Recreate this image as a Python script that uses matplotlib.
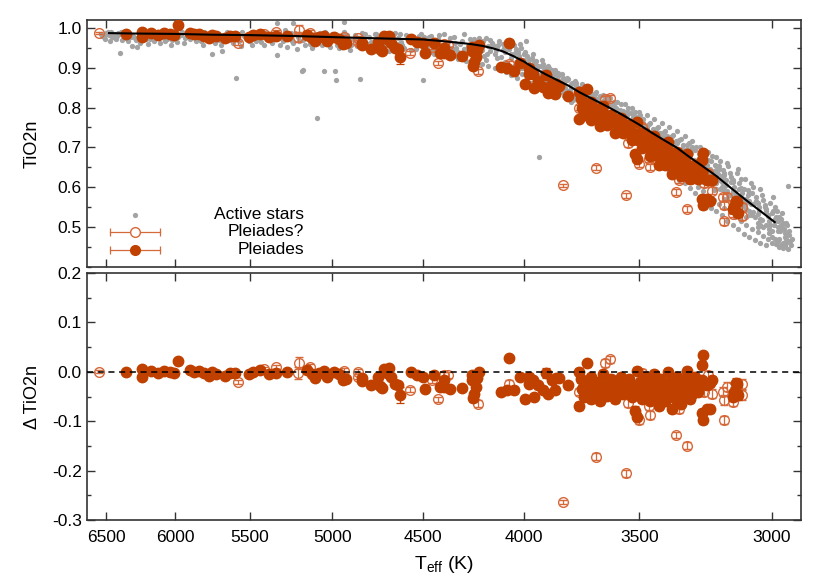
import matplotlib
matplotlib.use('Agg')
import matplotlib.pyplot as plt
from matplotlib.ticker import MultipleLocator, NullLocator, FixedLocator, FixedFormatter

plt.rcParams['font.family'] = ['Liberation Sans', 'DejaVu Sans']
plt.rcParams['axes.unicode_minus'] = False

# ---------------- data ----------------
xtick_vals = [6500, 6000, 5500, 5000, 4500, 4000, 3500, 3000]
xtick_labels = ['6500', '6000', '5500', '5000', '4500', '4000', '3500', '3000']

fit_teff = [6480, 6300, 6000, 5750, 5500, 5250, 5000, 4750, 4500, 4400, 4300, 4250, 4200,
            4150, 4100, 4050, 4000, 3950, 3900, 3850, 3800, 3750, 3700, 3650, 3600,
            3550, 3500, 3450, 3400, 3350, 3300, 3250, 3200, 3150, 3100, 3050, 2990]
fit_tio2 = [0.987, 0.986, 0.985, 0.983, 0.982, 0.980, 0.977, 0.974, 0.971, 0.967, 0.962, 0.959, 0.955,
            0.949, 0.941, 0.929, 0.915, 0.898, 0.883, 0.869, 0.855, 0.838, 0.823, 0.808, 0.792,
            0.775, 0.757, 0.737, 0.718, 0.699, 0.675, 0.652, 0.628, 0.600, 0.572, 0.545, 0.512]

# Active stars (gray), part 1
gray_teff = [6540, 6520, 6500, 6480, 6460, 6440, 6420, 6400, 6390, 6370, 6350, 6330, 6310, 6300, 6280,
             6270, 6260, 6240, 6220, 6200, 6180, 6160, 6140, 6120, 6100, 6080, 6060, 6040, 6020, 6000,
             5980, 5950, 5920, 5900, 5870, 5850, 5820, 5800, 5780, 5750, 5740, 5720, 5700, 5680, 5670,
             5650, 5630, 5600, 5590, 5570, 5550, 5520, 5500, 5480, 5450, 5430, 5400, 5380, 5350, 5330,
             5320, 5300, 5280, 5260, 5240, 5220, 5200, 5180, 5175, 5170, 5150, 5130, 5110, 5090, 5085,
             5070, 5050, 5045, 5020, 5000,
             4985, 4980, 4970, 4950, 4930, 4910, 4890, 4870, 4850, 4840, 4830, 4810, 4790, 4770, 4750,
             4730, 4710, 4690, 4670, 4650, 4630, 4610, 4590, 4570, 4550, 4530, 4510, 4500, 4490, 4470,
             4460, 4440, 4420, 4400, 4390, 4370, 4350, 4340, 4320, 4300, 4290, 4270, 4250, 4240, 4220,
             4200, 4190, 4180, 4160, 4150, 4130, 4120, 4100, 4090, 4080, 4060, 4050, 4040, 4030, 4020,
             4010, 4000,
             3990, 3980, 3970, 3960, 3950, 3940, 3930, 3920, 3910, 3900, 3890, 3880, 3870, 3860, 3850,
             3840, 3830, 3820, 3810, 3800, 3790, 3780, 3770, 3760, 3750, 3740, 3730, 3720, 3710, 3700,
             3690, 3680, 3670, 3660, 3650, 3640, 3630, 3620, 3610, 3600, 3590, 3580, 3570, 3560, 3550,
             3540, 3530, 3520, 3510, 3500,
             3490, 3480, 3470, 3460, 3450, 3440, 3430, 3420, 3410, 3400, 3390, 3380, 3370, 3360, 3350,
             3340, 3330, 3320, 3310, 3300, 3290, 3280, 3270, 3260, 3250, 3240, 3230, 3220, 3210, 3200,
             3190, 3180, 3170, 3160, 3150, 3140, 3130, 3120, 3110, 3100, 3090, 3080, 3075, 3070, 3060,
             3050, 3040, 3030, 3020, 3010, 3000, 2995, 2990, 2985, 2980, 2975, 2970, 2965, 2960, 2955,
             2950, 2945, 2962, 2985,
             6510, 6490, 6470, 6450, 6430, 6410, 6380, 6360, 6340, 6320, 6290, 6250, 6230, 6210, 6190,
             6170, 6150, 6130, 6110, 6090, 6070, 6050, 6030, 6010, 5990, 5960, 5940, 5910, 5890, 5860,
             5840, 5810, 5790, 5760, 5730, 5710, 5690, 5660, 5640, 5610, 5580, 5560, 5540, 5510, 5490,
             5460, 5440, 5410, 5390, 5360, 5340, 5310, 5290, 5270, 5250, 5230, 5210, 5190, 5160, 5140,
             5120, 5100, 5060, 5040, 5010, 4990, 4960, 4940, 4920, 4900, 4880, 4860, 4820, 4800, 4780,
             4760, 4740, 4720, 4700, 4680, 4660, 4640, 4620, 4600, 4580, 4560, 4540, 4520, 4480, 4460,
             5330, 5230, 4930,
             4490, 4470, 4450, 4430, 4410, 4380, 4360, 4340, 4330, 4310, 4280, 4260, 4230, 4210, 4200,
             4180, 4170, 4160, 4140, 4130, 4110, 4100, 4090, 4080, 4070, 4060, 4050, 4040, 4030, 4020,
             4015, 4005, 3995, 3990, 3985, 3975, 3965, 3960, 3955, 3945, 3940, 3935, 3925, 3915, 3905,
             3895, 3885, 3875, 3865,
             3945, 3925, 3905, 3885, 3865, 3845, 3835, 3825, 3815, 3805, 3795, 3785, 3775, 3765, 3755,
             3745, 3735, 3725, 3715, 3705, 3695, 3685, 3675, 3665, 3655, 3645, 3635, 3625, 3615, 3605,
             3595, 3585, 3575, 3565, 3555, 3545, 3535, 3525, 3515, 3505, 3500, 3495, 3850, 3790, 3730,
             3670, 3610, 3560, 3520,
             3485, 3475, 3465, 3455, 3445, 3435, 3425, 3415, 3405, 3395, 3385, 3375, 3365, 3355, 3345,
             3335, 3325, 3315, 3305, 3295, 3285, 3275, 3265, 3255, 3245, 3235, 3225, 3215, 3205, 3195,
             3185, 3175, 3165, 3155, 3145, 3135, 3125, 3115, 3105, 3095, 3085, 3080, 3065, 3055, 3045,
             3035, 3025, 3015, 3005, 2998, 2992, 2982, 2978, 2972, 2968, 2958, 2952, 2948, 2940, 2935,
             3150, 3130, 3110, 3090, 3070, 3050, 3030, 3010, 2990, 3200, 3180, 3160, 3250, 3230, 3210,
             3300, 3280, 3350, 3330, 3400, 3380, 3060, 3040, 3020, 3000, 2980, 2960, 2945, 3100, 3120,
             3140, 3190, 3170]
gray_tio2 = [0.985, 0.978, 0.988, 0.982, 0.976, 0.986, 0.980, 0.937, 0.990, 0.983, 0.975, 0.988, 0.955, 0.980, 0.970,
             0.952, 0.986, 0.978, 0.990, 0.982, 0.972, 0.987, 0.979, 0.990, 0.983, 0.975, 0.988, 0.980, 0.970, 0.986,
             0.978, 0.990, 0.982, 0.972, 0.987, 0.979, 0.968, 0.990, 0.983, 0.935, 0.975, 0.986, 0.970, 0.943, 0.981,
             0.989, 0.976, 0.984, 0.874, 0.968, 0.990, 0.980, 0.972, 0.986, 0.977, 0.965, 0.988, 0.980, 0.971, 0.932,
             0.985, 0.975, 0.995, 0.982, 0.968, 0.987, 0.978, 0.893, 0.895, 0.970, 0.985, 0.960, 0.980, 0.774, 0.972,
             0.988, 0.891, 0.975, 0.965, 0.984,
             0.893, 0.870, 0.978, 0.967, 0.989, 0.975, 0.958, 0.982, 0.970, 0.872, 0.987, 0.963, 0.978, 0.955, 0.985,
             0.970, 0.960, 0.980, 0.968, 0.988, 0.975, 0.958, 0.983, 0.966, 0.977, 0.955, 0.985, 0.870, 0.970, 0.962,
             0.980, 0.958, 0.972, 0.945, 0.985, 0.965, 0.950, 0.978, 0.940, 0.968, 0.985, 0.955, 0.935, 0.972, 0.948,
             0.962, 0.930, 0.975, 0.942, 0.958, 0.925, 0.968, 0.945, 0.915, 0.955, 0.935, 0.905, 0.948, 0.925, 0.960,
             0.900, 0.935,
             0.968, 0.920, 0.895, 0.935, 0.910, 0.880, 0.675, 0.920, 0.895, 0.870, 0.905, 0.880, 0.860, 0.895, 0.872,
             0.850, 0.885, 0.862, 0.840, 0.872, 0.850, 0.830, 0.866, 0.845, 0.825, 0.858, 0.838, 0.815, 0.850, 0.830,
             0.808, 0.840, 0.820, 0.800, 0.832, 0.812, 0.790, 0.825, 0.805, 0.783, 0.815, 0.795, 0.775, 0.808, 0.788,
             0.765, 0.800, 0.778, 0.755, 0.790,
             0.768, 0.745, 0.780, 0.758, 0.735, 0.770, 0.748, 0.725, 0.760, 0.738, 0.715, 0.750, 0.728, 0.705, 0.740,
             0.718, 0.695, 0.728, 0.705, 0.682, 0.715, 0.692, 0.668, 0.700, 0.678, 0.655, 0.688, 0.665, 0.640, 0.675,
             0.652, 0.628, 0.600, 0.660, 0.635, 0.612, 0.588, 0.645, 0.620, 0.595, 0.570, 0.540, 0.610, 0.585, 0.560,
             0.532, 0.595, 0.568, 0.545, 0.515, 0.490, 0.575, 0.550, 0.525, 0.500, 0.470, 0.455, 0.535, 0.510, 0.485,
             0.460, 0.603, 0.448, 0.458,
             0.972, 0.990, 0.968, 0.981, 0.973, 0.988, 0.970, 0.979, 0.966, 0.982, 0.974, 0.963, 0.984, 0.971, 0.960,
             0.980, 0.968, 0.985, 0.961, 0.977, 0.966, 0.983, 0.958, 0.975, 0.965, 0.982, 0.962, 0.976, 0.990, 0.967,
             0.980, 0.958, 0.973, 0.987, 0.962, 0.978, 0.957, 0.970, 0.983, 0.962, 0.975, 0.955, 0.980, 0.966, 0.958,
             0.984, 0.970, 0.956, 0.976, 0.963, 0.987, 0.958, 0.970, 0.952, 0.978, 0.962, 0.948, 0.984, 0.958, 0.972,
             0.950, 0.985, 0.958, 0.990, 0.953, 0.970, 0.950, 0.980, 0.960, 0.945, 0.972, 0.955, 0.975, 0.950, 0.965,
             0.985, 0.948, 0.975, 0.958, 0.943, 0.978, 0.960, 0.985, 0.950, 0.970, 0.945, 0.965, 0.980, 0.950, 0.940,
             1.012, 1.012, 1.015,
             0.955, 0.978, 0.945, 0.968, 0.935, 0.958, 0.975, 0.948, 0.930, 0.960, 0.942, 0.972, 0.925, 0.965, 0.945,
             0.920, 0.955, 0.970, 0.935, 0.952, 0.928, 0.960, 0.940, 0.910, 0.948, 0.925, 0.958, 0.915, 0.940, 0.900,
             0.950, 0.920, 0.940, 0.895, 0.930, 0.905, 0.925, 0.885, 0.915, 0.895, 0.870, 0.905, 0.885, 0.910, 0.865,
             0.890, 0.870, 0.895, 0.850,
             0.918, 0.905, 0.900, 0.892, 0.885, 0.880, 0.838, 0.875, 0.848, 0.868, 0.838, 0.862, 0.825, 0.855, 0.850,
             0.818, 0.848, 0.830, 0.840, 0.805, 0.835, 0.825, 0.798, 0.828, 0.815, 0.790, 0.822, 0.808, 0.783, 0.815,
             0.800, 0.775, 0.808, 0.792, 0.768, 0.800, 0.785, 0.758, 0.790, 0.775, 0.748, 0.782, 0.845, 0.815, 0.800,
             0.780, 0.760, 0.745, 0.732,
             0.770, 0.752, 0.728, 0.762, 0.745, 0.720, 0.752, 0.735, 0.710, 0.742, 0.725, 0.700, 0.732, 0.715, 0.688,
             0.722, 0.705, 0.678, 0.712, 0.695, 0.668, 0.700, 0.682, 0.655, 0.690, 0.668, 0.645, 0.678, 0.655, 0.632,
             0.665, 0.642, 0.618, 0.652, 0.625, 0.600, 0.635, 0.610, 0.585, 0.620, 0.592, 0.565, 0.600, 0.575, 0.550,
             0.580, 0.555, 0.530, 0.560, 0.535, 0.505, 0.540, 0.515, 0.490, 0.520, 0.495, 0.470, 0.505, 0.480, 0.455,
             0.580, 0.570, 0.555, 0.545, 0.530, 0.510, 0.500, 0.485, 0.470, 0.610, 0.600, 0.590, 0.635, 0.625, 0.615,
             0.660, 0.650, 0.685, 0.670, 0.700, 0.690, 0.525, 0.520, 0.505, 0.475, 0.465, 0.460, 0.445, 0.560, 0.575,
             0.590, 0.645, 0.630]

# Active stars (gray), part 2
gray2_teff = [6530, 6505, 6465, 6435, 6395, 6355, 6315, 6265, 6205, 6145,
              6095, 6055, 5995, 5935, 5875, 5815, 5755, 5695, 5635, 5575,
              5525, 5465, 5405, 5355, 5295, 5245, 5195, 5135, 5075, 5025,
              4975, 4915, 4865, 4815, 4765, 4715, 4665, 4615, 4575, 4535,
              4495, 4455, 4415, 4375, 4335, 4295, 4255, 4215, 4175, 4135,
              4480, 4440, 4400, 4360, 4320, 4280, 4240, 4200, 4170, 4140,
              4110, 4085, 4060, 4035, 4010, 3990, 3970, 3950, 3930, 3910,
              4450, 4410, 4370, 4330, 4290, 4245, 4195, 4155, 4125, 4095,
              4065, 4045, 4025, 4000, 3980, 3960, 3940, 3920, 3900, 3880,
              3870, 3830, 3790, 3750, 3710, 3670, 3630, 3590, 3550, 3510, 3470, 3430, 3390, 3350, 3310,
              3860, 3820, 3780, 3740, 3700, 3660, 3620, 3580, 3540, 3500, 3460, 3420, 3380, 3340, 3310,
              3880, 3840, 3800, 3760, 3720, 3680, 3640, 3600, 3560, 3520, 3480, 3440, 3400, 3360, 3320,
              3325, 3365, 3405, 3445, 3485, 3525, 3565, 3605, 3645, 3685, 3725, 3765, 3805, 3845, 3885,
              3295, 3285, 3275, 3265, 3255, 3245, 3235, 3225, 3215, 3205,
              3195, 3185, 3175, 3165, 3155, 3145, 3135, 3125, 3115, 3105,
              3095, 3085, 3075, 3065, 3055, 3045, 3035, 3025, 3015, 3005,
              2996, 2988, 2980, 2974, 2966, 2956, 2950, 2942, 2938, 2932,
              3290, 3260, 3230, 3200, 3170, 3140, 3110, 3080, 3050, 3020, 2990, 2970,
              3280, 3240, 3200, 3160, 3120, 3080, 3040, 3000, 2975, 2955,
              3270, 3220, 3180, 3130, 3090, 3010, 3170, 3110]
gray2_tio2 = [0.980, 0.984, 0.990, 0.975, 0.984, 0.990, 0.978, 0.974, 0.976, 0.974,
              0.990, 0.972, 0.980, 0.975, 0.978, 0.984, 0.977, 0.982, 0.970, 0.984,
              0.974, 0.968, 0.982, 0.984, 0.966, 0.988, 0.968, 0.990, 0.980, 0.976,
              0.958, 0.982, 0.966, 0.985, 0.962, 0.952, 0.972, 0.965, 0.980, 0.948,
              0.978, 0.968, 0.982, 0.940, 0.962, 0.925, 0.945, 0.975, 0.935, 0.945,
              0.940, 0.935, 0.930, 0.928, 0.922, 0.918, 0.915, 0.910, 0.905, 0.900,
              0.895, 0.890, 0.882, 0.875, 0.885, 0.870, 0.862, 0.870, 0.852, 0.860,
              0.962, 0.958, 0.952, 0.950, 0.948, 0.962, 0.968, 0.962, 0.958, 0.950,
              0.958, 0.938, 0.930, 0.920, 0.905, 0.900, 0.898, 0.890, 0.888, 0.875,
              0.880, 0.870, 0.858, 0.848, 0.835, 0.822, 0.805, 0.790, 0.782, 0.768, 0.752, 0.735, 0.728, 0.712, 0.695,
              0.845, 0.830, 0.818, 0.805, 0.792, 0.778, 0.765, 0.752, 0.740, 0.725, 0.708, 0.690, 0.672, 0.655, 0.640,
              0.860, 0.862, 0.842, 0.832, 0.818, 0.808, 0.795, 0.778, 0.765, 0.750, 0.735, 0.720, 0.705, 0.688, 0.672,
              0.690, 0.708, 0.725, 0.742, 0.760, 0.775, 0.790, 0.805, 0.820, 0.835, 0.850, 0.862, 0.875, 0.888, 0.900,
              0.685, 0.660, 0.640, 0.668, 0.645, 0.625, 0.655, 0.632, 0.610, 0.640,
              0.618, 0.595, 0.625, 0.605, 0.580, 0.612, 0.588, 0.565, 0.595, 0.572,
              0.550, 0.580, 0.558, 0.538, 0.565, 0.540, 0.518, 0.550, 0.528, 0.505,
              0.540, 0.515, 0.490, 0.525, 0.500, 0.475, 0.510, 0.490, 0.465, 0.470,
              0.700, 0.685, 0.668, 0.652, 0.635, 0.618, 0.598, 0.585, 0.560, 0.540, 0.520, 0.505,
              0.630, 0.612, 0.595, 0.570, 0.552, 0.530, 0.505, 0.460, 0.450, 0.452,
              0.650, 0.625, 0.612, 0.578, 0.560, 0.495, 0.590, 0.540]

# Active stars (gray), part 3: lower edge of the cool end
gray3_teff = [3400, 3380, 3360, 3340, 3320, 3300, 3280, 3260, 3240, 3220,
              3200, 3180, 3160, 3140, 3120, 3100, 3080, 3060, 3040, 3020,
              3390, 3370, 3350, 3330, 3310, 3290, 3270, 3250, 3230, 3210,
              3190, 3170, 3150, 3130, 3110, 3090, 3070, 3050, 3030, 3015,
              3410, 3370, 3330, 3290, 3250, 3210, 3170, 3130, 3090, 3050]
gray3_tio2 = [0.650, 0.640, 0.628, 0.618, 0.610, 0.598, 0.585, 0.572, 0.560, 0.548,
              0.540, 0.530, 0.515, 0.505, 0.495, 0.482, 0.475, 0.468, 0.460, 0.455,
              0.665, 0.655, 0.642, 0.635, 0.622, 0.612, 0.600, 0.590, 0.578, 0.568,
              0.558, 0.548, 0.538, 0.525, 0.515, 0.505, 0.495, 0.488, 0.478, 0.470,
              0.675, 0.672, 0.652, 0.632, 0.612, 0.592, 0.570, 0.545, 0.525, 0.500]

# Pleiades (filled)
p_teff = [6350, 6240, 6240, 6170, 6120, 6080, 6040, 6010, 5980, 5900,
          5870, 5840, 5800, 5770, 5750, 5720, 5660, 5630, 5600, 5510,
          5480, 5440, 5380, 5340, 5270, 5150, 5120, 5100, 5080, 5050,
          5030, 4990, 4960, 4940, 4920, 4830, 4830, 4780, 4740, 4730,
          4720, 4710, 4680, 4690, 4670, 4650, 4630, 4620, 4560, 4530,
          4500, 4490, 4440, 4410, 4360, 4390, 4390, 4300, 4250, 4250,
          4215, 4225, 4230, 4240, 4245, 4070, 4110, 4080, 4050, 4020,
          3995, 3980, 3980, 3960, 3955, 3935, 3915, 3900, 3890, 3875,
          3860, 3855, 3840, 3800, 3755, 3755, 3720, 3745, 3740, 3730,
          3720, 3710, 3700, 3700, 3690, 3680, 3675, 3665, 3660, 3650,
          3640, 3635, 3625, 3615, 3605, 3600, 3590, 3580, 3575, 3565,
          3555, 3545, 3540, 3530, 3525, 3515, 3510, 3510, 3505, 3495,
          3490, 3485, 3475, 3470, 3465, 3455, 3450, 3445, 3440, 3435,
          3425, 3420, 3415, 3410, 3400, 3395, 3390, 3385, 3380, 3375,
          3370, 3365, 3360, 3355, 3350, 3345, 3340, 3335, 3330, 3325,
          3320, 3315, 3310, 3305, 3300, 3295, 3290, 3285, 3280, 3275,
          3270, 3265, 3250, 3252, 3253, 3255, 3248, 3235, 3225, 3215,
          3235, 3225, 3140, 3135, 3125, 3120, 3128]
p_tio2 = [0.986, 0.991, 0.976, 0.987, 0.983, 0.987, 0.985, 0.983, 1.007, 0.988,
          0.984, 0.986, 0.980, 0.975, 0.983, 0.979, 0.975, 0.980, 0.980, 0.977,
          0.982, 0.985, 0.977, 0.979, 0.980, 0.983, 0.974, 0.966, 0.976, 0.979,
          0.967, 0.977, 0.972, 0.960, 0.961, 0.963, 0.957, 0.947, 0.964, 0.946,
          0.941, 0.980, 0.981, 0.971, 0.963, 0.949, 0.946, 0.926, 0.972, 0.964,
          0.961, 0.937, 0.962, 0.938, 0.931, 0.950, 0.937, 0.930, 0.952, 0.942,
          0.956, 0.944, 0.927, 0.914, 0.904, 0.961, 0.903, 0.899, 0.892, 0.911,
          0.858, 0.899, 0.885, 0.885, 0.849, 0.867, 0.851, 0.881, 0.836, 0.859,
          0.835, 0.858, 0.853, 0.828, 0.771, 0.840, 0.846, 0.822, 0.800, 0.782,
          0.804, 0.786, 0.813, 0.768, 0.790, 0.772, 0.796, 0.753, 0.776, 0.803,
          0.780, 0.755, 0.760, 0.782, 0.764, 0.737, 0.769, 0.747, 0.774, 0.735,
          0.749, 0.738, 0.756, 0.718, 0.736, 0.684, 0.670, 0.763, 0.719, 0.735,
          0.698, 0.716, 0.737, 0.700, 0.715, 0.679, 0.717, 0.695, 0.728, 0.681,
          0.698, 0.656, 0.709, 0.677, 0.693, 0.656, 0.679, 0.713, 0.661, 0.689,
          0.632, 0.665, 0.673, 0.646, 0.689, 0.652, 0.669, 0.627, 0.655, 0.637,
          0.670, 0.642, 0.682, 0.648, 0.620, 0.653, 0.625, 0.633, 0.656, 0.639,
          0.621, 0.629, 0.686, 0.667, 0.637, 0.571, 0.554, 0.618, 0.617, 0.619,
          0.569, 0.565, 0.544, 0.552, 0.562, 0.536, 0.566]
p_delta = [0.000, 0.005, -0.010, 0.001, -0.002, 0.002, 0.000, -0.002, 0.022, 0.004,
           0.000, 0.002, -0.003, -0.008, 0.000, -0.004, -0.008, -0.003, -0.002, -0.005,
           0.000, 0.003, -0.004, -0.002, 0.000, 0.004, -0.005, -0.013, -0.002, 0.001,
           -0.010, 0.000, -0.004, -0.016, -0.015, -0.012, -0.018, -0.027, -0.010, -0.028,
           -0.033, 0.006, 0.008, -0.002, -0.010, -0.024, -0.027, -0.047, 0.000, -0.007,
           -0.010, -0.034, -0.007, -0.030, -0.034, -0.017, -0.030, -0.032, -0.007, -0.017,
           0.000, -0.013, -0.030, -0.044, -0.054, 0.027, -0.040, -0.037, -0.037, -0.010,
           -0.056, -0.010, -0.024, -0.017, -0.051, -0.027, -0.037, -0.002, -0.044, -0.017,
           -0.037, -0.013, -0.013, -0.027, -0.069, 0.000, 0.017, -0.015, -0.035, -0.050,
           -0.025, -0.040, -0.010, -0.055, -0.030, -0.045, -0.020, -0.060, -0.035, -0.005,
           -0.025, -0.048, -0.040, -0.015, -0.030, -0.055, -0.020, -0.038, -0.010, -0.045,
           -0.028, -0.035, -0.015, -0.050, -0.030, -0.079, -0.091, 0.002, -0.040, -0.020,
           -0.055, -0.035, -0.010, -0.045, -0.028, -0.060, -0.020, -0.040, -0.005, -0.050,
           -0.030, -0.070, -0.015, -0.045, -0.025, -0.060, -0.035, 0.000, -0.050, -0.020,
           -0.075, -0.040, -0.030, -0.055, -0.010, -0.045, -0.025, -0.065, -0.035, -0.050,
           -0.015, -0.040, 0.002, -0.030, -0.055, -0.020, -0.045, -0.035, -0.010, -0.025,
           -0.040, -0.030, 0.034, 0.014, -0.017, -0.083, -0.097, -0.027, -0.023, -0.016,
           -0.076, -0.075, -0.050, -0.040, -0.024, -0.047, -0.022]
p_err = [0.004, 0.005, 0.005, 0.004, 0.004, 0.004, 0.004, 0.004, 0.006, 0.004,
         0.004, 0.004, 0.005, 0.004, 0.004, 0.004, 0.005, 0.004, 0.004, 0.005,
         0.004, 0.004, 0.005, 0.004, 0.004, 0.005, 0.004, 0.005, 0.004, 0.004,
         0.005, 0.004, 0.005, 0.005, 0.005, 0.005, 0.005, 0.006, 0.005, 0.006,
         0.006, 0.006, 0.005, 0.005, 0.005, 0.006, 0.006, 0.016, 0.005, 0.005,
         0.006, 0.006, 0.005, 0.006, 0.006, 0.006, 0.006, 0.006, 0.006, 0.006,
         0.005, 0.006, 0.006, 0.007, 0.007, 0.006, 0.007, 0.006, 0.007, 0.006,
         0.008, 0.007, 0.007, 0.006, 0.007, 0.007, 0.008, 0.010, 0.007, 0.007,
         0.008, 0.007, 0.007, 0.007, 0.008, 0.007, 0.007, 0.007, 0.008, 0.008,
         0.007, 0.008, 0.007, 0.008, 0.007, 0.008, 0.007, 0.008, 0.007, 0.008,
         0.008, 0.007, 0.008, 0.008, 0.007, 0.008, 0.008, 0.007, 0.008, 0.008,
         0.007, 0.008, 0.008, 0.008, 0.007, 0.009, 0.008, 0.008, 0.008, 0.007,
         0.008, 0.008, 0.007, 0.008, 0.008, 0.008, 0.007, 0.008, 0.008, 0.008,
         0.008, 0.008, 0.008, 0.008, 0.008, 0.009, 0.008, 0.008, 0.008, 0.008,
         0.009, 0.008, 0.008, 0.008, 0.008, 0.008, 0.008, 0.009, 0.008, 0.008,
         0.008, 0.008, 0.008, 0.008, 0.009, 0.008, 0.008, 0.008, 0.008, 0.008,
         0.008, 0.008, 0.006, 0.008, 0.008, 0.007, 0.009, 0.008, 0.008, 0.008,
         0.008, 0.008, 0.009, 0.009, 0.009, 0.010, 0.009]

# Pleiades? (open)
q_teff = [6556, 5580, 5411, 5335, 5197, 5205, 5130, 4930, 4855, 4855,
          4570, 4450, 4420, 4390, 4370, 4230, 4220, 4070, 3755, 3640,
          3620, 3545, 3500, 3460, 3455, 3490, 3355, 3310, 3680, 3555,
          3822, 3340, 3230, 3245, 3215, 3170, 3175, 3170, 3160, 3140,
          3105, 3105]
q_tio2 = [0.988, 0.962, 0.986, 0.990, 0.996, 0.977, 0.988, 0.978, 0.975, 0.965,
          0.936, 0.952, 0.912, 0.960, 0.958, 0.950, 0.891, 0.910, 0.800, 0.822,
          0.824, 0.710, 0.659, 0.671, 0.651, 0.750, 0.587, 0.545, 0.649, 0.579,
          0.605, 0.619, 0.636, 0.610, 0.591, 0.514, 0.574, 0.554, 0.576, 0.533,
          0.551, 0.528]
q_delta = [0.000, -0.020, 0.005, 0.010, 0.017, -0.003, 0.010, 0.002, 0.000, -0.010,
           -0.036, -0.017, -0.056, -0.007, -0.007, -0.007, -0.065, -0.024, -0.040, 0.017,
           0.025, -0.063, -0.098, -0.070, -0.088, -0.003, -0.128, -0.150, -0.172, -0.205,
           -0.264, -0.075, -0.007, -0.040, -0.044, -0.097, -0.040, -0.057, -0.030, -0.061,
           -0.024, -0.047]
q_err = [0.003, 0.004, 0.004, 0.004, 0.012, 0.012, 0.006, 0.005, 0.005, 0.005,
         0.005, 0.005, 0.006, 0.006, 0.006, 0.006, 0.007, 0.007, 0.007, 0.008,
         0.008, 0.008, 0.008, 0.008, 0.008, 0.008, 0.007, 0.007, 0.007, 0.007,
         0.004, 0.008, 0.008, 0.009, 0.009, 0.008, 0.009, 0.010, 0.009, 0.009,
         0.010, 0.010]

legend_labels = ['Active stars', 'Pleiades?', 'Pleiades']

# ---------------- style ----------------
FILLED = '#C04000'
OPEN = '#D5693A'
GRAY = '#A3A3A3'
SPINE = '#333333'
FS = 12.5
GMS = 3.8

fig = plt.figure(figsize=(8.3, 5.81), dpi=100)
ax1 = fig.add_axes([0.1045, 0.541, 0.8606, 0.4246])
ax2 = fig.add_axes([0.1045, 0.105, 0.8606, 0.4251])

# top panel
for gt, gv in ((gray_teff, gray_tio2), (gray2_teff, gray2_tio2), (gray3_teff, gray3_tio2)):
    ax1.plot(gt, gv, 'o', ms=GMS, color=GRAY, mec='none', zorder=1)
ax1.errorbar(q_teff, q_tio2, yerr=q_err, fmt='o', ms=7, mfc='none', mec=OPEN, mew=1.0,
             ecolor=OPEN, elinewidth=0.9, capsize=3, capthick=0.9, zorder=2)
ax1.errorbar(p_teff, p_tio2, yerr=p_err, fmt='o', ms=7.5, color=FILLED, mec=FILLED,
             ecolor=FILLED, elinewidth=0.9, capsize=3, capthick=0.9, zorder=3)
ax1.plot(fit_teff, fit_tio2, '-', color='black', lw=1.5, zorder=5)

# bottom panel
ax2.errorbar(q_teff, q_delta, yerr=q_err, fmt='o', ms=7, mfc='none', mec=OPEN, mew=1.0,
             ecolor=OPEN, elinewidth=0.9, capsize=3, capthick=0.9, zorder=2)
ax2.errorbar(p_teff, p_delta, yerr=p_err, fmt='o', ms=7.5, color=FILLED, mec=FILLED,
             ecolor=FILLED, elinewidth=0.9, capsize=3, capthick=0.9, zorder=3)
ax2.axhline(0.0, color='black', lw=1.1, ls=(0, (4, 3)), zorder=5)

for ax in (ax1, ax2):
    ax.set_xscale('log')
    ax.set_xlim(6650, 2900)
    ax.xaxis.set_major_locator(FixedLocator(xtick_vals))
    ax.xaxis.set_major_formatter(FixedFormatter(xtick_labels))
    ax.xaxis.set_minor_locator(NullLocator())
    ax.yaxis.set_minor_locator(MultipleLocator(0.05))
    ax.tick_params(which='both', direction='in', top=True, right=True, labelsize=FS,
                   color=SPINE, width=1.0)
    ax.tick_params(which='major', length=6)
    ax.tick_params(which='minor', length=3)
    for s in ax.spines.values():
        s.set_color(SPINE)
        s.set_linewidth(1.2)

ax1.set_ylim(0.4, 1.02)
ax1.set_yticks([0.5, 0.6, 0.7, 0.8, 0.9, 1.0])
ax1.set_yticklabels(['0.5', '0.6', '0.7', '0.8', '0.9', '1.0'])
ax1.tick_params(labelbottom=False)
ax1.set_ylabel('TiO2n', fontsize=13, labelpad=12)

ax2.set_ylim(-0.3, 0.2)
ax2.set_yticks([-0.3, -0.2, -0.1, 0.0, 0.1, 0.2])
ax2.set_yticklabels(['-0.3', '-0.2', '-0.1', '0.0', '0.1', '0.2'])
ax2.set_ylabel('\u0394 TiO2n', fontsize=13, labelpad=8)
ax2.set_xlabel('T$_{\\mathregular{eff}}$ (K)', fontsize=14, labelpad=7)
ax2.tick_params(axis='x', pad=7)

# manual legend (gnuplot style)
tr = ax1.transAxes
lx, lx0, lx1, tx = 0.0676, 0.0326, 0.1026, 0.304
ys = [0.2096, 0.1407, 0.0677]
ax1.plot([lx], [ys[0]], 'o', ms=GMS, color=GRAY, mec='none', transform=tr, clip_on=False)
for y, filled in ((ys[1], False), (ys[2], True)):
    c = FILLED if filled else OPEN
    ax1.plot([lx0, lx1], [y, y], '-', color=OPEN, lw=0.9, transform=tr)
    ax1.plot([lx0, lx1], [y, y], '|', color=OPEN, ms=6, mew=0.9, transform=tr)
    ax1.plot([lx], [y], 'o', ms=7, mfc=(FILLED if filled else 'white'), mec=c, mew=1.0,
             transform=tr)
for y, lab in zip(ys, legend_labels):
    ax1.text(tx, y, lab, transform=tr, ha='right', va='center', fontsize=FS)

fig.savefig('out.png', dpi=100)
